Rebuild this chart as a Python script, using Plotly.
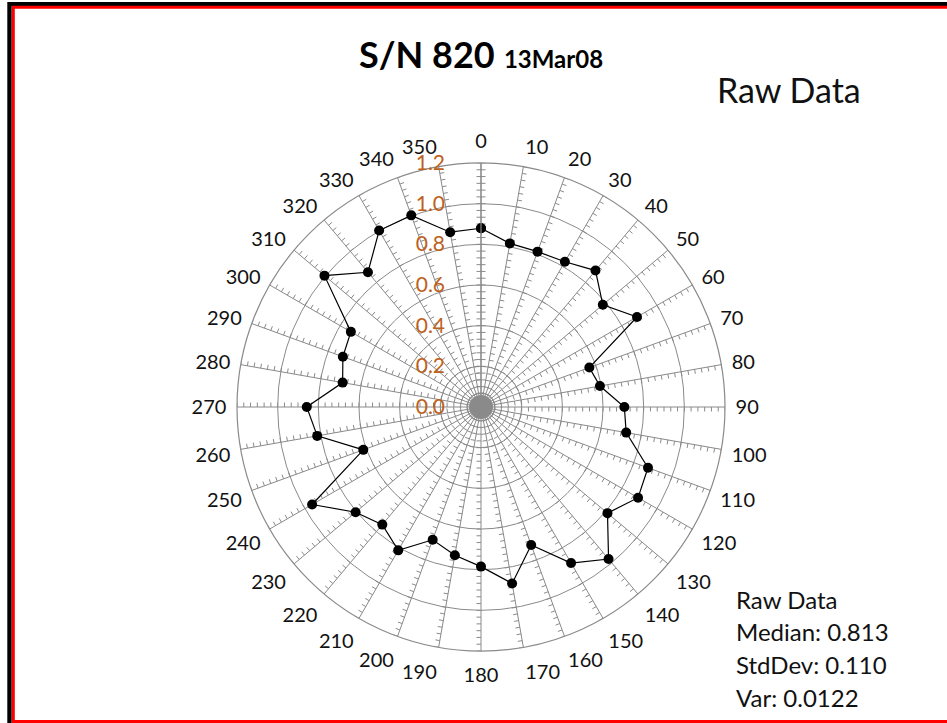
import numpy as np
import plotly.graph_objects as go

# direction (degrees, clockwise from north) and measured value
angles = list(range(0, 360, 10))
angle_labels = [str(a) for a in angles]
raw_values = [
    0.879, 0.817, 0.813, 0.825, 0.876, 0.782, 0.886, 0.567, 0.594,
    0.705, 0.725, 0.874, 0.892, 0.812, 0.976, 0.886, 0.722, 0.881,
    0.785, 0.740, 0.695, 0.814, 0.755, 0.805, 0.959, 0.616, 0.818,
    0.857, 0.691, 0.723, 0.739, 1.005, 0.865, 1.002, 1.003, 0.873,
]
radial_ticks = [0.0, 0.2, 0.4, 0.6, 0.8, 1.0, 1.2]
stats_lines = ["Raw Data", "Median: 0.813", "StdDev: 0.110", "Var: 0.0122"]

W, H = 947, 723
CX, CY, RAD = 481, 407, 244
R_MAX = 1.2
GRID = "#8a8a8a"
FONT = "Lato"


def px_x(x):
    return x / W


def px_y(y):
    return 1 - y / H


# small tick marks along every spoke (excel radar style)
tick_len = 4.5 * R_MAX / RAD
minor_r = np.arange(0, 37) / 30
tick_r, tick_t = [], []
for a in angles:
    for r in minor_r:
        rr = float(np.hypot(r, tick_len))
        da = float(np.degrees(np.arctan2(tick_len, r)))
        if a == 0:
            tick_r += [rr, rr, None]
            tick_t += [a - da, a + da, None]
        else:
            tick_r += [float(r), rr, None]
            tick_t += [a, a + da, None]

fig = go.Figure()
fig.add_trace(
    go.Scatterpolar(
        r=tick_r,
        theta=tick_t,
        mode="lines",
        line=dict(color=GRID, width=1),
        hoverinfo="skip",
        showlegend=False,
    )
)
# the ticks pile up into a solid grey hub in the middle
fig.add_trace(
    go.Scatterpolar(
        r=[0], theta=[0], mode="markers",
        marker=dict(color=GRID, size=24),
        hoverinfo="skip", showlegend=False,
    )
)
fig.add_trace(
    go.Scatterpolar(
        r=raw_values + raw_values[:1],
        theta=angles + angles[:1],
        mode="lines+markers",
        line=dict(color="black", width=1.2),
        marker=dict(color="black", size=10),
        name="Raw Data",
        showlegend=False,
    )
)

fig.update_layout(
    width=W,
    height=H,
    autosize=False,
    margin=dict(l=0, r=0, t=0, b=0),
    paper_bgcolor="white",
    font=dict(family=FONT, color="#111111"),
    polar=dict(
        domain=dict(
            x=[px_x(CX - RAD), px_x(CX + RAD)],
            y=[px_y(CY + RAD), px_y(CY - RAD)],
        ),
        bgcolor="white",
        angularaxis=dict(
            direction="clockwise",
            rotation=90,
            tickmode="array",
            tickvals=angles,
            ticktext=angle_labels,
            tickfont=dict(family=FONT, size=20, color="#111111"),
            ticks="outside",
            ticklen=6,
            tickcolor="rgba(0,0,0,0)",
            showgrid=True,
            gridcolor=GRID,
            gridwidth=1.2,
            showline=True,
            linecolor=GRID,
            linewidth=1.2,
        ),
        radialaxis=dict(
            range=[0, R_MAX],
            angle=90,
            side="counterclockwise",
            tickmode="array",
            tickvals=radial_ticks,
            tickformat=".1f",
            tickangle=90,
            tickfont=dict(family=FONT, size=21, color="#bd611c"),
            ticks="outside",
            ticklen=28,
            tickcolor="rgba(0,0,0,0)",
            showgrid=True,
            gridcolor=GRID,
            gridwidth=1.2,
            showline=True,
            linecolor=GRID,
            linewidth=1.2,
        ),
    ),
)

annotations = [
    dict(
        text="<b>S/N 820</b> <b><span style='font-size:24px'>13Mar08</span></b>",
        x=px_x(481), y=px_y(54), xref="paper", yref="paper",
        xanchor="center", yanchor="middle", showarrow=False,
        font=dict(family=FONT, size=36, color="black"),
    ),
    dict(
        text="Raw Data",
        x=px_x(789), y=px_y(89), xref="paper", yref="paper",
        xanchor="center", yanchor="middle", showarrow=False,
        font=dict(family=FONT, size=34, color="#111111"),
    ),
]
for i, line in enumerate(stats_lines):
    annotations.append(
        dict(
            text=line,
            x=px_x(734), y=px_y(599 + i * 32.7), xref="paper", yref="paper",
            xanchor="left", yanchor="middle", showarrow=False,
            font=dict(family=FONT, size=24, color="#111111"),
        )
    )
fig.update_layout(annotations=annotations)

# black outer frame + red inner frame
fig.update_layout(
    shapes=[
        dict(type="line", xref="paper", yref="paper",
             x0=px_x(9.5), y0=px_y(4), x1=px_x(960), y1=px_y(4),
             line=dict(color="black", width=4)),
        dict(type="line", xref="paper", yref="paper",
             x0=px_x(9.5), y0=px_y(2), x1=px_x(9.5), y1=px_y(730),
             line=dict(color="black", width=4.4)),
        dict(type="rect", xref="paper", yref="paper",
             x0=px_x(13.3), y0=px_y(7.2), x1=px_x(970), y1=px_y(721.5),
             line=dict(color="red", width=3)),
    ]
)

fig.write_html(
    "out.html",
    config={"displayModeBar": False},
    post_script="document.body.style.margin = '0';",
)
